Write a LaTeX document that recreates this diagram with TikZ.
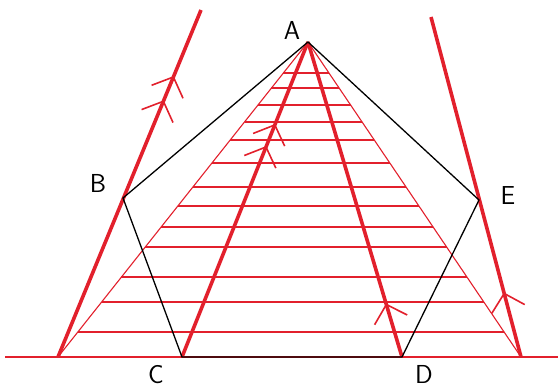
\documentclass[tikz,border=0pt]{standalone}
\usetikzlibrary{calc, arrows.meta, decorations.markings}
\definecolor{penred}{RGB}{226,32,44}

\begin{document}
\begin{tikzpicture}[
    x=1pt, y=-1pt,
    pentagon_edge/.style={draw=black, line width=1.3pt},
    thin_red/.style={draw=penred, line width=1.1pt},
    thick_red/.style={draw=penred, line width=3.6pt},
    base_line/.style={draw=penred, line width=1.6pt},
    vertex_label/.style={font=\sffamily\fontsize{26}{26}\selectfont, inner sep=1pt},
    chevron_at/.style={
            postaction={decorate, decoration={markings,
                        mark=at position #1 with {\arrow[penred]{Straight Barb[length=16pt, width=34pt, line width=1.6pt]}}}}
        }
    ]
    \useasboundingbox (0,0) rectangle (558,390);

    % --- Points ---
    \coordinate (A) at (308,42);
    \coordinate (B) at (123,198);
    \coordinate (C) at (182,357);
    \coordinate (D) at (402,357);
    \coordinate (E) at (479,200);
    \coordinate (F) at (58,357);
    \coordinate (G) at (521,357);
    \coordinate (left_top) at (201,10);
    \coordinate (right_top) at (431,17);
    \coordinate (base_west) at (5,357);
    \coordinate (base_east) at (558,357);

    % --- Hatched triangle ---
    \foreach \h in {73,88,105,122,140,163,187,206,227,247,277,302,332}
    \draw[thin_red] ($(A)!{(\h-42)/315}!(F)$) -- ($(A)!{(\h-42)/315}!(G)$);
    \draw[thin_red] (A) -- (F);
    \draw[thin_red] (A) -- (G);

    % --- Base line ---
    \draw[base_line] (base_west) -- (base_east);

    % --- Thick lines with arrows ---
    \draw[thick_red, chevron_at=0.74, chevron_at=0.81] (F) -- (left_top);
    \draw[thick_red, chevron_at=0.67, chevron_at=0.74] (C) -- (A);
    \draw[thick_red, chevron_at=0.17] (D) -- (A);
    \draw[thick_red, chevron_at=0.19] (G) -- (right_top);

    % --- Pentagon ---
    \draw[pentagon_edge] (A) -- (B) -- (C) -- (D) -- (E) -- cycle;

    % --- Labels ---
    \node[vertex_label] (label_A) at (292,30) {A};
    \node[vertex_label] (label_B) at (98,183) {B};
    \node[vertex_label] (label_C) at (156,375) {C};
    \node[vertex_label] (label_D) at (424,374) {D};
    \node[vertex_label] (label_E) at (508,196) {E};

\end{tikzpicture}
\end{document}
